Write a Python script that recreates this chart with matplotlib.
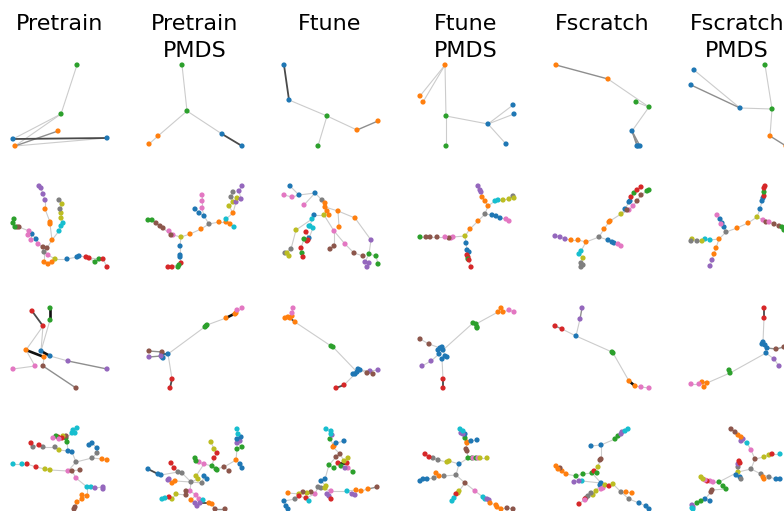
import matplotlib
matplotlib.use("Agg")
import matplotlib.pyplot as plt
from matplotlib.collections import LineCollection

# ---------------- categories / styles ----------------
PALETTE = {
    "B": "#1f77b4", "O": "#ff7f0e", "G": "#2ca02c", "R": "#d62728", "P": "#9467bd",
    "N": "#8c564b", "K": "#e377c2", "E": "#7f7f7f", "L": "#bcbd22", "C": "#17becf",
}
EDGE_STYLE = {0: ("#cccccc", 0.8), 1: ("#8e8e8e", 1.0), 2: ("#4a4a4a", 1.3), 3: ("#111111", 1.9)}

titles = ["Pretrain", "Pretrain\nPMDS", "Ftune", "Ftune\nPMDS", "Fscratch", "Fscratch\nPMDS"]
title_x = [60, 195, 330, 466, 602, 737]

# Node tables: (x, y, category, parent index, edge shade to parent)
r1c1 = [(77, 65, "G", -1, 0), (61, 114, "G", 0, 0), (58, 131, "O", 4, 1), (13, 139, "B", 1, 0),
        (15, 146, "O", 1, 0), (107, 138, "B", 3, 2)]
r1c1_extra = [(4, 5, 0)]
r1c2 = [(182, 65, "G", -1, 0), (187, 111, "G", 0, 0), (158, 136, "O", 1, 0), (149, 144, "O", 2, 0),
        (222, 134, "B", 1, 0), (242, 146, "B", 4, 2)]
r1c3 = [(284, 65, "B", -1, 0), (289, 100, "B", 0, 2), (327, 116, "G", 1, 0), (318, 146, "G", 2, 0),
        (357, 130, "O", 2, 0), (378, 121, "O", 4, 1)]
r1c4 = [(445, 65, "O", -1, 0), (420, 96, "O", 0, 0), (423, 102, "O", 0, 0), (446, 116, "G", 0, 0),
        (446, 146, "G", 3, 0), (488, 124, "B", 3, 0), (513, 105, "B", 5, 0), (514, 114, "B", 5, 0),
        (506, 144, "B", 5, 0)]
r1c5 = [(556, 65, "O", -1, 0), (608, 79, "O", 0, 1), (649, 107, "G", 1, 0), (636, 102, "G", 2, 0),
        (632, 131, "B", 2, 0), (637, 146, "B", 4, 1), (638, 146, "B", 4, 1), (640, 146, "B", 4, 1)]
r1c6 = [(740, 108, "B", -1, 0), (694, 70, "B", 0, 0), (691, 85, "B", 0, 1), (772, 109, "G", 0, 0),
        (765, 65, "G", 3, 0), (770, 136, "O", 3, 0), (786, 146, "O", 5, 1)]

r2c1 = [(43, 247, "N", -1, 0), (47, 248, "N", 0, 0), (44, 252, "E", 0, 0), (48, 255, "K", 2, 0),
        (55, 259, "L", 3, 0), (67, 259, "B", 4, 0), (77, 257, "B", 5, 0), (79, 256, "B", 6, 0),
        (86, 257, "R", 7, 0), (89, 258, "R", 8, 0), (95, 262, "G", 9, 0), (99, 259, "G", 9, 0),
        (103, 259, "R", 11, 0), (107, 267, "R", 12, 0), (44, 262, "O", 2, 0), (48, 264, "O", 14, 0),
        (52, 262, "O", 15, 0), (52, 240, "O", 1, 0), (50, 224, "O", 17, 0), (50, 222, "O", 18, 0),
        (45, 209, "O", 19, 0), (45, 200, "P", 20, 0), (43, 194, "P", 21, 0), (41, 188, "P", 22, 0),
        (39, 186, "P", 23, 0), (59, 231, "C", 17, 0), (61, 226, "C", 25, 0), (63, 223, "C", 26, 0),
        (61, 218, "L", 27, 0), (61, 213, "L", 28, 0), (60, 209, "E", 29, 0), (62, 204, "L", 30, 0),
        (59, 200, "E", 31, 0), (38, 244, "K", 0, 0), (36, 239, "B", 33, 0), (32, 234, "B", 34, 0),
        (31, 240, "K", 35, 0), (28, 235, "K", 35, 0), (29, 231, "K", 37, 0), (19, 227, "N", 38, 0),
        (17, 227, "N", 39, 0), (15, 227, "G", 40, 0), (13, 223, "G", 41, 0), (14, 219, "G", 42, 0)]
r2c2 = [(209, 224, "E", -1, 0), (219, 222, "O", 0, 0), (226, 222, "O", 1, 0), (226, 219, "C", 2, 0),
        (230, 224, "O", 2, 0), (234, 227, "C", 4, 0), (233, 213, "O", 3, 0), (229, 206, "L", 6, 0),
        (233, 202, "L", 7, 0), (231, 197, "E", 8, 0), (233, 192, "E", 9, 0), (236, 202, "P", 6, 0),
        (237, 198, "L", 11, 0), (241, 199, "P", 12, 0), (239, 191, "P", 13, 0), (242, 186, "P", 14, 0),
        (204, 216, "B", 0, 0), (199, 213, "B", 16, 0), (195, 209, "B", 17, 0), (202, 208, "K", 16, 0),
        (202, 201, "K", 19, 0), (202, 195, "K", 20, 0), (201, 229, "O", 0, 0), (190, 234, "O", 22, 0),
        (181, 237, "L", 23, 0), (173, 235, "K", 24, 0), (169, 231, "K", 25, 0), (171, 235, "N", 25, 0),
        (163, 228, "N", 27, 0), (160, 226, "N", 28, 0), (156, 223, "N", 29, 0), (152, 220, "G", 30, 0),
        (148, 220, "G", 31, 0), (180, 246, "B", 24, 0), (180, 255, "B", 33, 0), (180, 257, "B", 34, 0),
        (181, 263, "R", 35, 0), (179, 265, "G", 36, 0), (178, 267, "G", 37, 0), (172, 267, "R", 36, 0),
        (168, 267, "R", 39, 0)]
r2c3 = [(322, 200, "E", -1, 0), (315, 193, "B", 0, 0), (299, 195, "B", 1, 0), (290, 186, "B", 2, 0),
        (292, 197, "K", 2, 0), (284, 195, "K", 4, 0), (304, 205, "K", 1, 0), (325, 203, "O", 0, 0),
        (325, 207, "O", 7, 0), (327, 211, "O", 8, 0), (329, 215, "O", 9, 0), (338, 211, "O", 8, 0),
        (355, 218, "O", 11, 0), (371, 240, "P", 12, 0), (369, 254, "G", 13, 0), (376, 256, "G", 14, 0),
        (378, 264, "G", 15, 0), (365, 262, "P", 14, 0), (369, 263, "P", 17, 0), (367, 267, "P", 18, 0),
        (339, 227, "O", 11, 0), (324, 215, "L", 9, 0), (314, 215, "B", 21, 0), (312, 219, "C", 22, 0),
        (310, 226, "C", 23, 0), (313, 228, "C", 24, 0), (309, 226, "C", 24, 0), (296, 230, "L", 23, 0),
        (291, 249, "E", 27, 0), (285, 253, "E", 28, 0), (287, 253, "L", 29, 0), (289, 256, "L", 30, 0),
        (309, 238, "B", 25, 0), (308, 240, "R", 32, 0), (307, 241, "R", 33, 0), (304, 239, "G", 34, 0),
        (306, 232, "R", 32, 0), (301, 248, "R", 35, 0), (302, 253, "G", 37, 0), (303, 257, "R", 38, 0),
        (334, 231, "K", 21, 0), (334, 246, "N", 40, 0), (330, 249, "N", 41, 0), (345, 244, "K", 40, 0),
        (354, 253, "N", 43, 0), (363, 256, "N", 44, 0)]
r2c4 = [(465, 236, "L", -1, 0), (453, 237, "K", 0, 0), (451, 238, "K", 1, 0), (449, 238, "N", 2, 0),
        (445, 237, "K", 3, 0), (437, 237, "N", 4, 0), (430, 237, "N", 5, 0), (426, 237, "N", 6, 0),
        (420, 237, "G", 7, 0), (466, 243, "B", 0, 0), (467, 250, "B", 9, 0), (469, 252, "B", 10, 0),
        (467, 255, "R", 11, 0), (468, 257, "R", 12, 0), (468, 259, "G", 13, 0), (469, 260, "R", 14, 0),
        (471, 267, "R", 15, 0), (470, 229, "O", 0, 0), (478, 221, "O", 17, 0), (485, 214, "E", 18, 0),
        (492, 215, "B", 19, 0), (496, 216, "B", 20, 0), (500, 218, "B", 21, 0), (506, 219, "K", 22, 0),
        (509, 221, "K", 23, 0), (488, 206, "O", 19, 0), (485, 201, "O", 25, 0), (482, 197, "O", 26, 0),
        (481, 192, "P", 27, 0), (480, 190, "P", 28, 0), (478, 186, "P", 29, 0), (495, 201, "C", 25, 0),
        (498, 200, "C", 31, 0), (503, 200, "L", 32, 0), (509, 199, "L", 33, 0), (513, 196, "E", 34, 0),
        (514, 198, "L", 35, 0)]
r2c5 = [(599, 237, "E", -1, 0), (586, 242, "O", 0, 0), (578, 240, "O", 1, 0), (571, 240, "O", 2, 0),
        (565, 239, "P", 3, 0), (560, 237, "P", 4, 0), (555, 236, "P", 5, 0), (581, 251, "C", 1, 0),
        (579, 254, "C", 7, 0), (583, 258, "L", 8, 0), (581, 263, "E", 9, 0), (583, 265, "E", 10, 0),
        (581, 267, "E", 11, 0), (608, 240, "B", 0, 0), (612, 242, "B", 13, 0), (614, 243, "B", 14, 0),
        (618, 244, "K", 15, 0), (621, 246, "K", 16, 0), (604, 229, "O", 0, 0), (609, 222, "O", 18, 0),
        (610, 221, "O", 19, 0), (621, 214, "L", 20, 0), (625, 209, "B", 21, 0), (629, 202, "B", 22, 0),
        (630, 201, "B", 23, 0), (631, 197, "R", 24, 0), (634, 193, "G", 25, 0), (637, 190, "R", 26, 0),
        (641, 187, "R", 27, 0), (629, 210, "K", 21, 0), (633, 206, "K", 29, 0), (627, 210, "N", 21, 0),
        (637, 201, "N", 30, 0), (641, 195, "N", 32, 0), (647, 191, "G", 33, 0), (649, 190, "G", 34, 0)]
r2c6 = [(757, 217, "L", -1, 0), (748, 223, "O", 0, 0), (737, 228, "O", 1, 0), (726, 232, "E", 2, 0),
        (719, 239, "O", 3, 0), (710, 240, "C", 4, 0), (705, 239, "C", 5, 0), (702, 241, "L", 6, 0),
        (697, 241, "E", 7, 0), (692, 239, "L", 8, 0), (691, 241, "E", 9, 0), (716, 248, "O", 4, 0),
        (714, 254, "O", 11, 0), (712, 260, "P", 12, 0), (710, 266, "P", 13, 0), (724, 227, "B", 3, 0),
        (722, 223, "B", 15, 0), (720, 219, "B", 16, 0), (721, 224, "K", 16, 0), (717, 215, "K", 17, 0),
        (760, 209, "B", 0, 0), (762, 201, "B", 20, 0), (763, 198, "B", 21, 0), (764, 196, "R", 22, 0),
        (764, 192, "G", 23, 0), (764, 188, "R", 24, 0), (765, 186, "R", 25, 0), (763, 220, "K", 0, 0),
        (766, 222, "N", 27, 0), (769, 222, "K", 28, 0), (774, 224, "N", 29, 0), (779, 226, "N", 30, 0),
        (782, 227, "G", 31, 0), (784, 230, "G", 32, 0)]

r3c1 = [(41, 351, "B", -1, 0), (43, 326, "R", 0, 0), (32, 311, "R", 1, 2), (50, 320, "G", 0, 0),
        (50, 308, "G", 3, 3), (26, 350, "O", 1, 0), (44, 357, "O", 5, 3), (50, 356, "B", 0, 3),
        (68, 361, "P", 7, 0), (107, 369, "P", 8, 1), (35, 366, "K", 5, 0), (13, 369, "K", 10, 0),
        (43, 366, "N", 6, 0), (76, 388, "N", 12, 1)]
r3c2 = [(168, 354, "B", -1, 0), (162, 357, "B", 0, 0), (163, 358, "B", 0, 0), (162, 354, "B", 0, 2),
        (206, 326, "G", 0, 0), (207, 325, "G", 4, 0), (205, 327, "G", 4, 0), (226, 318, "O", 5, 0),
        (236, 313, "O", 7, 3), (235, 314, "O", 8, 0), (242, 308, "K", 8, 0), (237, 310, "K", 9, 0),
        (162, 352, "N", 3, 0), (149, 351, "N", 12, 1), (161, 356, "P", 2, 0), (149, 357, "P", 14, 1),
        (172, 379, "R", 0, 0), (170, 388, "R", 16, 2)]
r3c3 = [(331, 346, "G", -1, 0), (333, 347, "G", 0, 0), (295, 322, "O", 0, 0), (290, 318, "O", 2, 2),
        (292, 316, "O", 3, 0), (288, 317, "O", 4, 0), (285, 318, "O", 5, 0), (292, 313, "K", 4, 0),
        (293, 308, "K", 7, 0), (357, 372, "B", 1, 0), (358, 369, "B", 9, 0), (360, 370, "B", 9, 0),
        (355, 374, "B", 9, 0), (353, 374, "B", 12, 0), (370, 371, "P", 11, 0), (378, 370, "P", 14, 0),
        (367, 373, "N", 11, 0), (373, 374, "N", 16, 0), (344, 385, "R", 12, 0), (336, 388, "R", 18, 2)]
r3c4 = [(443, 350, "B", -1, 0), (440, 348, "B", 0, 0), (442, 347, "B", 1, 0), (438, 350, "B", 0, 0),
        (445, 356, "B", 0, 0), (447, 357, "B", 4, 0), (442, 359, "B", 4, 0), (439, 354, "B", 0, 0),
        (473, 323, "G", 0, 0), (476, 324, "G", 8, 0), (477, 327, "G", 9, 0), (477, 328, "G", 10, 0),
        (498, 312, "O", 9, 0), (501, 308, "O", 12, 0), (503, 312, "O", 12, 0), (509, 310, "K", 14, 0),
        (514, 312, "K", 15, 0), (429, 344, "N", 1, 0), (420, 339, "N", 17, 0), (431, 361, "P", 7, 0),
        (422, 366, "P", 19, 0), (443, 379, "R", 6, 0), (443, 388, "R", 21, 2)]
r3c5 = [(576, 336, "B", -1, 0), (580, 319, "P", 0, 0), (582, 308, "P", 1, 1), (562, 329, "R", 0, 0),
        (555, 326, "R", 3, 1), (612, 352, "G", 0, 0), (613, 353, "G", 5, 0), (629, 381, "O", 6, 0),
        (635, 386, "O", 7, 3), (641, 387, "K", 8, 0), (649, 388, "K", 9, 0)]
r3c6 = [(763, 342, "B", -1, 0), (765, 345, "B", 0, 0), (767, 348, "B", 1, 0), (762, 344, "B", 0, 0),
        (766, 353, "B", 1, 0), (764, 318, "R", 0, 0), (764, 308, "R", 5, 2), (776, 349, "N", 2, 1),
        (784, 347, "N", 7, 1), (774, 359, "P", 4, 0), (779, 366, "P", 9, 0), (730, 373, "G", 4, 0),
        (729, 370, "G", 11, 0), (707, 383, "O", 11, 0), (702, 382, "O", 13, 1), (704, 387, "O", 14, 0),
        (699, 384, "K", 14, 0), (691, 384, "K", 16, 0)]

r4c1 = [(76, 462, "E", -1, 0), (92, 458, "E", 0, 0), (97, 453, "E", 1, 0), (97, 448, "B", 2, 0),
        (92, 443, "B", 3, 0), (89, 445, "B", 4, 0), (102, 459, "O", 1, 0), (107, 460, "O", 6, 0),
        (72, 452, "B", 0, 0), (68, 451, "B", 8, 0), (59, 450, "L", 9, 0), (55, 447, "E", 10, 0),
        (43, 447, "E", 11, 0), (39, 445, "R", 12, 0), (33, 447, "E", 13, 0), (31, 443, "R", 14, 0),
        (67, 442, "G", 9, 0), (66, 438, "G", 16, 0), (66, 436, "N", 17, 0), (63, 436, "L", 17, 0),
        (62, 438, "R", 17, 0), (58, 437, "R", 20, 0), (56, 436, "G", 21, 0), (59, 439, "K", 21, 0),
        (53, 438, "K", 22, 0), (72, 433, "C", 17, 0), (75, 433, "C", 25, 0), (73, 430, "C", 26, 0),
        (77, 428, "C", 26, 0), (68, 471, "K", 0, 0), (72, 471, "N", 29, 0), (80, 470, "N", 29, 0),
        (50, 470, "L", 29, 0), (45, 469, "L", 32, 0), (36, 467, "R", 33, 0), (27, 464, "R", 34, 0),
        (22, 464, "C", 35, 0), (13, 464, "C", 36, 0), (76, 478, "K", 30, 0), (87, 487, "C", 38, 0),
        (91, 487, "C", 39, 0), (95, 488, "P", 40, 0), (103, 487, "P", 41, 0), (103, 489, "P", 42, 0),
        (87, 496, "O", 39, 0), (82, 495, "O", 44, 0), (82, 499, "O", 44, 0), (77, 502, "O", 46, 0),
        (75, 507, "N", 47, 0), (74, 509, "N", 48, 0)]
r4c2 = [(191, 482, "E", -1, 0), (202, 483, "E", 0, 0), (204, 476, "B", 1, 0), (207, 479, "B", 2, 0),
        (198, 479, "L", 0, 0), (196, 476, "L", 4, 0), (204, 464, "K", 5, 0), (199, 462, "K", 6, 0),
        (196, 461, "G", 7, 0), (195, 458, "G", 8, 0), (212, 466, "G", 6, 0), (216, 469, "G", 10, 0),
        (217, 470, "G", 11, 0), (214, 458, "R", 10, 0), (217, 453, "R", 13, 0), (214, 449, "L", 14, 0),
        (211, 442, "L", 15, 0), (224, 467, "N", 11, 0), (229, 471, "N", 17, 0), (236, 460, "O", 17, 0),
        (240, 464, "B", 19, 0), (242, 468, "B", 20, 0), (237, 449, "G", 19, 0), (242, 447, "G", 22, 0),
        (237, 443, "P", 23, 0), (240, 441, "P", 24, 0), (237, 439, "B", 25, 0), (241, 437, "B", 26, 0),
        (238, 434, "C", 27, 0), (237, 429, "C", 28, 0), (182, 473, "E", 0, 0), (178, 472, "E", 30, 0),
        (174, 468, "R", 31, 0), (171, 463, "R", 32, 0), (161, 475, "B", 31, 0), (158, 474, "B", 34, 0),
        (148, 469, "B", 35, 2), (175, 481, "O", 0, 0), (172, 483, "O", 37, 0), (169, 479, "P", 38, 0),
        (168, 480, "P", 39, 0), (190, 491, "K", 0, 0), (186, 491, "N", 41, 0), (186, 495, "N", 42, 0),
        (176, 494, "L", 43, 0), (172, 499, "L", 44, 0), (169, 497, "R", 45, 0), (165, 498, "C", 46, 0),
        (162, 499, "C", 47, 0), (196, 495, "K", 41, 0), (199, 499, "K", 49, 0), (203, 500, "C", 50, 0),
        (191, 500, "O", 49, 0), (195, 503, "P", 52, 0), (197, 506, "P", 53, 0), (200, 503, "P", 54, 0),
        (209, 503, "O", 55, 2), (212, 504, "O", 56, 0), (215, 509, "N", 57, 0), (225, 509, "N", 58, 1)]
r4c3 = [(321, 488, "E", -1, 0), (318, 487, "E", 0, 0), (326, 486, "L", 0, 0), (325, 488, "L", 2, 0),
        (321, 481, "B", 2, 0), (325, 479, "B", 4, 0), (329, 465, "G", 5, 0), (334, 468, "G", 6, 0),
        (338, 463, "R", 7, 0), (341, 466, "G", 8, 0), (348, 468, "K", 9, 0), (345, 468, "P", 9, 0),
        (353, 472, "G", 10, 0), (347, 463, "R", 8, 3), (336, 457, "N", 6, 0), (340, 454, "N", 14, 0),
        (344, 461, "L", 15, 0), (348, 458, "L", 16, 0), (333, 447, "O", 15, 0), (334, 446, "O", 18, 0),
        (336, 443, "B", 19, 0), (344, 441, "B", 20, 0), (330, 439, "G", 19, 0), (332, 435, "P", 22, 0),
        (331, 434, "C", 23, 0), (331, 431, "C", 24, 0), (326, 429, "C", 25, 0), (331, 491, "K", 0, 0),
        (327, 494, "P", 27, 0), (329, 496, "P", 28, 0), (331, 499, "R", 29, 0), (347, 491, "C", 27, 0),
        (356, 490, "O", 31, 0), (352, 494, "P", 31, 0), (355, 495, "P", 33, 0), (361, 491, "O", 32, 0),
        (368, 489, "O", 35, 0), (377, 487, "N", 36, 1), (315, 494, "K", 1, 0), (311, 492, "N", 38, 0),
        (307, 493, "L", 39, 0), (303, 492, "N", 40, 0), (299, 494, "L", 41, 0), (288, 493, "O", 42, 0),
        (306, 498, "R", 38, 0), (299, 496, "R", 44, 0), (309, 501, "C", 44, 0), (295, 499, "E", 45, 0),
        (284, 501, "B", 47, 0), (286, 506, "B", 48, 0), (288, 509, "B", 49, 0)]
r4c4 = [(459, 464, "B", -1, 0), (456, 475, "E", 0, 0), (465, 483, "N", 1, 0), (475, 491, "K", 2, 0),
        (483, 497, "C", 3, 0), (485, 499, "C", 4, 0), (487, 499, "P", 5, 0), (489, 500, "P", 6, 0),
        (490, 503, "O", 7, 0), (496, 505, "O", 8, 0), (497, 507, "O", 9, 0), (501, 509, "O", 10, 0),
        (507, 508, "N", 11, 0), (513, 509, "N", 12, 0), (459, 491, "L", 2, 0), (458, 493, "L", 14, 0),
        (456, 494, "R", 15, 0), (454, 498, "C", 16, 0), (452, 501, "C", 17, 0), (444, 476, "E", 1, 0),
        (439, 476, "O", 19, 0), (436, 473, "O", 20, 0), (434, 478, "E", 20, 0), (427, 479, "B", 22, 0),
        (423, 479, "B", 23, 0), (420, 481, "B", 24, 0), (449, 461, "L", 0, 0), (447, 462, "L", 26, 0),
        (438, 460, "E", 27, 0), (433, 458, "E", 28, 0), (429, 457, "R", 29, 0), (425, 454, "R", 30, 0),
        (468, 458, "G", 0, 0), (472, 458, "G", 32, 0), (473, 458, "K", 33, 0), (476, 458, "G", 34, 0),
        (478, 458, "K", 35, 0), (480, 458, "L", 36, 0), (487, 458, "L", 37, 0), (467, 451, "N", 32, 0),
        (466, 449, "N", 39, 0), (467, 443, "O", 40, 0), (467, 442, "O", 41, 0), (471, 441, "B", 42, 0),
        (477, 440, "B", 43, 0), (465, 438, "G", 42, 0), (465, 434, "B", 45, 0), (463, 434, "P", 46, 0),
        (461, 433, "P", 47, 0), (463, 431, "C", 48, 0), (460, 429, "C", 49, 0)]
r4c5 = [(601, 483, "B", -1, 0), (600, 485, "B", 0, 0), (601, 489, "K", 0, 0), (603, 488, "K", 2, 0),
        (605, 485, "L", 0, 0), (609, 486, "R", 4, 0), (613, 484, "L", 5, 0), (621, 492, "E", 6, 0),
        (626, 492, "O", 7, 0), (632, 493, "O", 8, 0), (629, 499, "E", 7, 0), (639, 503, "B", 10, 0),
        (646, 506, "B", 11, 0), (649, 509, "B", 12, 0), (596, 491, "L", 1, 0), (593, 495, "L", 14, 0),
        (591, 493, "E", 15, 0), (588, 496, "E", 16, 0), (586, 498, "E", 17, 0), (585, 499, "R", 18, 0),
        (585, 500, "K", 19, 0), (579, 504, "R", 19, 0), (582, 481, "C", 0, 0), (579, 481, "P", 22, 0),
        (574, 482, "P", 23, 0), (592, 473, "G", 0, 0), (594, 471, "R", 25, 0), (597, 473, "G", 26, 0),
        (598, 467, "L", 26, 0), (600, 460, "N", 28, 0), (601, 459, "N", 29, 0), (601, 445, "B", 30, 0),
        (591, 446, "B", 31, 0), (615, 439, "G", 31, 0), (618, 436, "G", 33, 0), (621, 434, "P", 34, 0),
        (622, 432, "P", 35, 0), (625, 431, "C", 36, 0), (628, 429, "C", 37, 0), (583, 474, "G", 25, 0),
        (576, 476, "G", 39, 0), (566, 474, "O", 40, 0), (562, 471, "O", 41, 0), (560, 468, "N", 42, 0),
        (558, 469, "O", 42, 0), (556, 466, "O", 44, 0)]
r4c6 = [(751, 469, "E", -1, 0), (755, 459, "N", 0, 0), (751, 450, "K", 1, 0), (747, 443, "C", 2, 0),
        (741, 441, "P", 3, 0), (743, 439, "P", 4, 0), (741, 437, "O", 5, 0), (738, 435, "O", 6, 0),
        (735, 432, "N", 7, 0), (731, 429, "N", 8, 0), (764, 457, "L", 1, 0), (769, 455, "L", 10, 0),
        (772, 454, "R", 11, 0), (780, 454, "C", 12, 0), (761, 474, "E", 0, 0), (763, 477, "O", 14, 0),
        (764, 479, "O", 15, 0), (769, 477, "E", 14, 0), (776, 479, "B", 17, 0), (780, 479, "B", 18, 0),
        (738, 472, "L", 0, 0), (738, 467, "E", 20, 0), (738, 464, "P", 21, 0), (740, 463, "R", 22, 0),
        (739, 461, "R", 23, 0), (736, 475, "B", 20, 0), (740, 477, "B", 25, 0), (741, 479, "E", 26, 0),
        (719, 482, "G", 20, 0), (723, 486, "G", 28, 0), (726, 489, "G", 29, 0), (712, 490, "N", 30, 0),
        (711, 492, "N", 31, 0), (705, 499, "B", 32, 0), (710, 501, "B", 33, 0), (701, 501, "G", 33, 0),
        (697, 503, "G", 35, 0), (693, 507, "P", 36, 0), (692, 505, "P", 37, 0), (693, 509, "C", 37, 0),
        (692, 508, "C", 39, 0), (713, 482, "K", 28, 0), (710, 481, "K", 41, 0), (707, 481, "R", 42, 0),
        (705, 480, "K", 43, 0), (703, 479, "L", 44, 0), (701, 477, "L", 45, 0)]

grid = [
    [r1c1, r1c2, r1c3, r1c4, r1c5, r1c6],
    [r2c1, r2c2, r2c3, r2c4, r2c5, r2c6],
    [r3c1, r3c2, r3c3, r3c4, r3c5, r3c6],
    [r4c1, r4c2, r4c3, r4c4, r4c5, r4c6],
]
extra_edges = {(0, 0): r1c1_extra}

# ---------------- figure ----------------
W, H = 784, 511
fig = plt.figure(figsize=(W / 100, H / 100), dpi=100)

col_left = [10 + 135.5 * c for c in range(6)]
col_w = 98
row_top = [62, 182, 304, 424]
row_h = 88

for r, row in enumerate(grid):
    for c, nodes in enumerate(row):
        x0, y0 = col_left[c], row_top[r]
        ax = fig.add_axes([x0 / W, 1 - (y0 + row_h) / H, col_w / W, row_h / H])
        ax.set_xlim(x0, x0 + col_w)
        ax.set_ylim(y0 + row_h, y0)
        ax.axis("off")
        edges = [(n[3], i, n[4]) for i, n in enumerate(nodes) if n[3] >= 0]
        edges += extra_edges.get((r, c), [])
        for shade in sorted(EDGE_STYLE):
            segs = [[(nodes[a][0], nodes[a][1]), (nodes[b][0], nodes[b][1])]
                    for a, b, s in edges if s == shade]
            if segs:
                col, lw = EDGE_STYLE[shade]
                ax.add_collection(LineCollection(segs, colors=col, linewidths=lw,
                                                 zorder=1 + shade * 0.1, clip_on=False))
        xs = [n[0] for n in nodes]
        ys = [n[1] for n in nodes]
        cs = [PALETTE[n[2]] for n in nodes]
        ax.scatter(xs, ys, s=14, c=cs, linewidths=0, zorder=3, clip_on=False)

for t, cx in zip(titles, title_x):
    for k, line in enumerate(t.split("\n")):
        fig.text(cx / W, 1 - (30 + 27 * k) / H, line, ha="center", va="baseline",
                 fontsize=16, color="black")

fig.savefig("out.png", dpi=100)
